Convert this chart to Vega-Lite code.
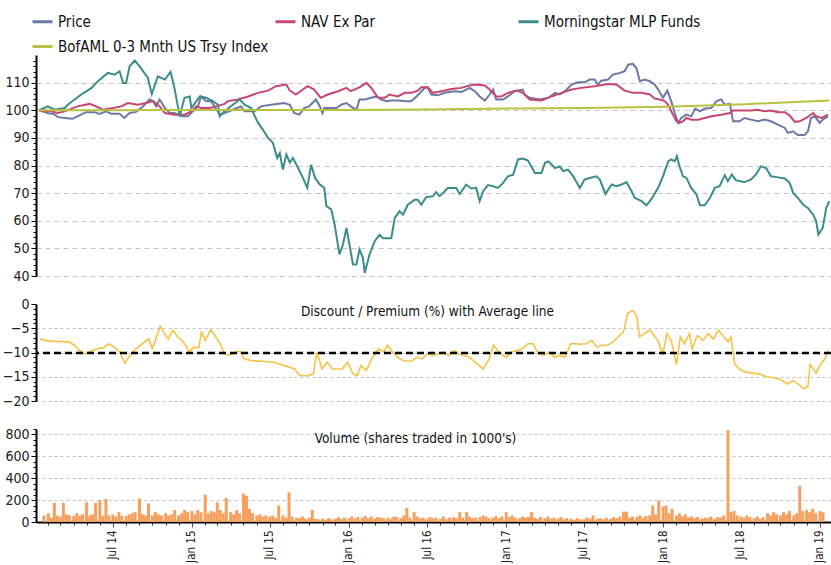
{
  "$schema": "https://vega.github.io/schema/vega-lite/v6.json",
  "padding": {"left": 2, "top": 10, "right": 0, "bottom": 0},
  "background": "white",
  "bounds": "flush",
  "spacing": 28,
  "config": {
    "font": "DejaVu Sans Condensed",
    "view": {"stroke": null},
    "axis": {
      "labelFont": "DejaVu Sans Condensed",
      "labelFontSize": 14,
      "labelColor": "#222",
      "domainColor": "#000",
      "domainWidth": 2,
      "tickColor": "#000",
      "tickSize": 5,
      "labelPadding": 2,
      "gridColor": "#c4c4c4",
      "gridDash": [5, 4],
      "title": null
    },
    "title": {"font": "DejaVu Sans Condensed", "fontSize": 13.5, "fontWeight": "normal", "color": "#111"}
  },
  "datasets": {
    "prices": [
      {"date": "2014-01-22", "series": "Price", "value": 100},
      {"date": "2014-02-11", "series": "Price", "value": 99},
      {"date": "2014-02-27", "series": "Price", "value": 98.5},
      {"date": "2014-03-06", "series": "Price", "value": 97.5},
      {"date": "2014-03-22", "series": "Price", "value": 97.2},
      {"date": "2014-04-09", "series": "Price", "value": 96.9},
      {"date": "2014-04-20", "series": "Price", "value": 97.8},
      {"date": "2014-05-10", "series": "Price", "value": 99.3},
      {"date": "2014-05-30", "series": "Price", "value": 99.3},
      {"date": "2014-06-10", "series": "Price", "value": 98.7},
      {"date": "2014-06-25", "series": "Price", "value": 99.6},
      {"date": "2014-07-07", "series": "Price", "value": 98.7},
      {"date": "2014-07-26", "series": "Price", "value": 98.7},
      {"date": "2014-08-06", "series": "Price", "value": 97.2},
      {"date": "2014-08-18", "series": "Price", "value": 99},
      {"date": "2014-09-02", "series": "Price", "value": 99.4},
      {"date": "2014-09-18", "series": "Price", "value": 101.4},
      {"date": "2014-10-03", "series": "Price", "value": 103.9},
      {"date": "2014-10-11", "series": "Price", "value": 103.3},
      {"date": "2014-10-18", "series": "Price", "value": 101.4},
      {"date": "2014-10-26", "series": "Price", "value": 103.9},
      {"date": "2014-11-07", "series": "Price", "value": 100.8},
      {"date": "2014-11-18", "series": "Price", "value": 99},
      {"date": "2014-11-29", "series": "Price", "value": 99},
      {"date": "2014-12-15", "series": "Price", "value": 97.8},
      {"date": "2014-12-30", "series": "Price", "value": 97.8},
      {"date": "2015-01-10", "series": "Price", "value": 99.6},
      {"date": "2015-01-22", "series": "Price", "value": 101.4},
      {"date": "2015-01-29", "series": "Price", "value": 105},
      {"date": "2015-02-10", "series": "Price", "value": 103.3},
      {"date": "2015-02-21", "series": "Price", "value": 103.3},
      {"date": "2015-03-01", "series": "Price", "value": 101.4},
      {"date": "2015-03-13", "series": "Price", "value": 98.4},
      {"date": "2015-03-24", "series": "Price", "value": 99},
      {"date": "2015-04-12", "series": "Price", "value": 100.2},
      {"date": "2015-05-01", "series": "Price", "value": 101.4},
      {"date": "2015-05-09", "series": "Price", "value": 99.6},
      {"date": "2015-06-01", "series": "Price", "value": 99.6},
      {"date": "2015-06-16", "series": "Price", "value": 101.4},
      {"date": "2015-07-09", "series": "Price", "value": 102},
      {"date": "2015-08-08", "series": "Price", "value": 102.6},
      {"date": "2015-08-21", "series": "Price", "value": 102},
      {"date": "2015-08-31", "series": "Price", "value": 99},
      {"date": "2015-09-12", "series": "Price", "value": 98.4},
      {"date": "2015-09-23", "series": "Price", "value": 100.8},
      {"date": "2015-10-04", "series": "Price", "value": 101.4},
      {"date": "2015-10-20", "series": "Price", "value": 103.9},
      {"date": "2015-10-29", "series": "Price", "value": 101.4},
      {"date": "2015-11-04", "series": "Price", "value": 99},
      {"date": "2015-11-08", "series": "Price", "value": 100.8},
      {"date": "2015-12-06", "series": "Price", "value": 100.8},
      {"date": "2015-12-17", "series": "Price", "value": 102},
      {"date": "2015-12-29", "series": "Price", "value": 102.6},
      {"date": "2016-01-08", "series": "Price", "value": 101.4},
      {"date": "2016-01-21", "series": "Price", "value": 100.2},
      {"date": "2016-01-28", "series": "Price", "value": 103.9},
      {"date": "2016-02-09", "series": "Price", "value": 103.9},
      {"date": "2016-02-24", "series": "Price", "value": 104.5},
      {"date": "2016-03-07", "series": "Price", "value": 105},
      {"date": "2016-03-18", "series": "Price", "value": 103.9},
      {"date": "2016-03-30", "series": "Price", "value": 103.3},
      {"date": "2016-04-10", "series": "Price", "value": 103.5},
      {"date": "2016-04-25", "series": "Price", "value": 103.5},
      {"date": "2016-05-15", "series": "Price", "value": 103.3},
      {"date": "2016-05-26", "series": "Price", "value": 103.3},
      {"date": "2016-06-07", "series": "Price", "value": 105},
      {"date": "2016-06-15", "series": "Price", "value": 106.3},
      {"date": "2016-06-26", "series": "Price", "value": 108.1},
      {"date": "2016-07-03", "series": "Price", "value": 108.1},
      {"date": "2016-07-11", "series": "Price", "value": 105.7},
      {"date": "2016-07-26", "series": "Price", "value": 105.4},
      {"date": "2016-08-11", "series": "Price", "value": 106.3},
      {"date": "2016-09-03", "series": "Price", "value": 106.9},
      {"date": "2016-09-18", "series": "Price", "value": 106.6},
      {"date": "2016-09-29", "series": "Price", "value": 107.5},
      {"date": "2016-10-07", "series": "Price", "value": 108.1},
      {"date": "2016-10-19", "series": "Price", "value": 106.9},
      {"date": "2016-10-30", "series": "Price", "value": 105},
      {"date": "2016-11-11", "series": "Price", "value": 103.5},
      {"date": "2016-11-22", "series": "Price", "value": 105.7},
      {"date": "2016-11-30", "series": "Price", "value": 107.5},
      {"date": "2016-12-07", "series": "Price", "value": 103.9},
      {"date": "2016-12-23", "series": "Price", "value": 103.9},
      {"date": "2017-01-03", "series": "Price", "value": 105},
      {"date": "2017-01-18", "series": "Price", "value": 106.9},
      {"date": "2017-02-06", "series": "Price", "value": 107.5},
      {"date": "2017-02-10", "series": "Price", "value": 105.7},
      {"date": "2017-02-22", "series": "Price", "value": 104.5},
      {"date": "2017-03-17", "series": "Price", "value": 103.9},
      {"date": "2017-04-06", "series": "Price", "value": 104.5},
      {"date": "2017-04-21", "series": "Price", "value": 106.3},
      {"date": "2017-05-02", "series": "Price", "value": 105.7},
      {"date": "2017-05-14", "series": "Price", "value": 106.9},
      {"date": "2017-05-29", "series": "Price", "value": 109.3},
      {"date": "2017-06-13", "series": "Price", "value": 110.1},
      {"date": "2017-06-28", "series": "Price", "value": 110.1},
      {"date": "2017-07-10", "series": "Price", "value": 111.1},
      {"date": "2017-07-21", "series": "Price", "value": 111.1},
      {"date": "2017-07-29", "series": "Price", "value": 109.3},
      {"date": "2017-08-05", "series": "Price", "value": 110.7},
      {"date": "2017-08-21", "series": "Price", "value": 111.1},
      {"date": "2017-09-01", "series": "Price", "value": 112.9},
      {"date": "2017-09-17", "series": "Price", "value": 113.5},
      {"date": "2017-09-28", "series": "Price", "value": 114.1},
      {"date": "2017-10-06", "series": "Price", "value": 116.5},
      {"date": "2017-10-17", "series": "Price", "value": 116.8},
      {"date": "2017-10-25", "series": "Price", "value": 115.3},
      {"date": "2017-11-02", "series": "Price", "value": 110.5},
      {"date": "2017-11-13", "series": "Price", "value": 111.1},
      {"date": "2017-11-25", "series": "Price", "value": 110.5},
      {"date": "2017-12-06", "series": "Price", "value": 109.3},
      {"date": "2017-12-14", "series": "Price", "value": 107.5},
      {"date": "2017-12-25", "series": "Price", "value": 104.5},
      {"date": "2018-01-04", "series": "Price", "value": 107.1},
      {"date": "2018-01-13", "series": "Price", "value": 103.3},
      {"date": "2018-01-21", "series": "Price", "value": 99},
      {"date": "2018-01-29", "series": "Price", "value": 95.4},
      {"date": "2018-02-05", "series": "Price", "value": 97.2},
      {"date": "2018-02-17", "series": "Price", "value": 98.4},
      {"date": "2018-02-28", "series": "Price", "value": 97.8},
      {"date": "2018-03-09", "series": "Price", "value": 100.6},
      {"date": "2018-03-20", "series": "Price", "value": 99.6},
      {"date": "2018-03-31", "series": "Price", "value": 100.6},
      {"date": "2018-04-15", "series": "Price", "value": 100.8},
      {"date": "2018-04-27", "series": "Price", "value": 103.3},
      {"date": "2018-05-08", "series": "Price", "value": 103.9},
      {"date": "2018-05-16", "series": "Price", "value": 102},
      {"date": "2018-05-28", "series": "Price", "value": 102.3},
      {"date": "2018-06-04", "series": "Price", "value": 96},
      {"date": "2018-06-19", "series": "Price", "value": 96},
      {"date": "2018-06-30", "series": "Price", "value": 97.2},
      {"date": "2018-07-15", "series": "Price", "value": 96.6},
      {"date": "2018-07-31", "series": "Price", "value": 96},
      {"date": "2018-08-15", "series": "Price", "value": 96.6},
      {"date": "2018-08-30", "series": "Price", "value": 96},
      {"date": "2018-09-15", "series": "Price", "value": 94.8},
      {"date": "2018-10-01", "series": "Price", "value": 93.6},
      {"date": "2018-10-08", "series": "Price", "value": 91.8},
      {"date": "2018-10-20", "series": "Price", "value": 92.4},
      {"date": "2018-10-31", "series": "Price", "value": 91},
      {"date": "2018-11-15", "series": "Price", "value": 91},
      {"date": "2018-11-23", "series": "Price", "value": 92.4},
      {"date": "2018-11-30", "series": "Price", "value": 97.2},
      {"date": "2018-12-09", "series": "Price", "value": 97.8},
      {"date": "2018-12-20", "series": "Price", "value": 95.4},
      {"date": "2018-12-27", "series": "Price", "value": 96.6},
      {"date": "2019-01-08", "series": "Price", "value": 97.8},
      {"date": "2014-01-22", "series": "NAV Ex Par", "value": 100},
      {"date": "2014-02-19", "series": "NAV Ex Par", "value": 99.6},
      {"date": "2014-03-06", "series": "NAV Ex Par", "value": 99},
      {"date": "2014-03-22", "series": "NAV Ex Par", "value": 99.6},
      {"date": "2014-04-20", "series": "NAV Ex Par", "value": 101.4},
      {"date": "2014-05-18", "series": "NAV Ex Par", "value": 102.3},
      {"date": "2014-06-02", "series": "NAV Ex Par", "value": 101.4},
      {"date": "2014-06-18", "series": "NAV Ex Par", "value": 100.2},
      {"date": "2014-07-11", "series": "NAV Ex Par", "value": 100.8},
      {"date": "2014-07-30", "series": "NAV Ex Par", "value": 101.4},
      {"date": "2014-08-14", "series": "NAV Ex Par", "value": 102.6},
      {"date": "2014-09-06", "series": "NAV Ex Par", "value": 102},
      {"date": "2014-09-25", "series": "NAV Ex Par", "value": 102.6},
      {"date": "2014-10-11", "series": "NAV Ex Par", "value": 103.3},
      {"date": "2014-10-26", "series": "NAV Ex Par", "value": 101.4},
      {"date": "2014-11-07", "series": "NAV Ex Par", "value": 99},
      {"date": "2014-11-29", "series": "NAV Ex Par", "value": 98.4},
      {"date": "2014-12-22", "series": "NAV Ex Par", "value": 98.4},
      {"date": "2015-01-07", "series": "NAV Ex Par", "value": 99.6},
      {"date": "2015-01-18", "series": "NAV Ex Par", "value": 101.4},
      {"date": "2015-01-29", "series": "NAV Ex Par", "value": 100.8},
      {"date": "2015-02-18", "series": "NAV Ex Par", "value": 100.8},
      {"date": "2015-03-05", "series": "NAV Ex Par", "value": 101.4},
      {"date": "2015-03-24", "series": "NAV Ex Par", "value": 102.3},
      {"date": "2015-04-01", "series": "NAV Ex Par", "value": 103.3},
      {"date": "2015-04-24", "series": "NAV Ex Par", "value": 103.9},
      {"date": "2015-05-17", "series": "NAV Ex Par", "value": 105},
      {"date": "2015-06-09", "series": "NAV Ex Par", "value": 106.3},
      {"date": "2015-07-02", "series": "NAV Ex Par", "value": 107.1},
      {"date": "2015-07-20", "series": "NAV Ex Par", "value": 108.7},
      {"date": "2015-08-13", "series": "NAV Ex Par", "value": 109.3},
      {"date": "2015-08-21", "series": "NAV Ex Par", "value": 107.1},
      {"date": "2015-09-04", "series": "NAV Ex Par", "value": 105.7},
      {"date": "2015-09-20", "series": "NAV Ex Par", "value": 107.5},
      {"date": "2015-10-01", "series": "NAV Ex Par", "value": 108.7},
      {"date": "2015-10-16", "series": "NAV Ex Par", "value": 107.5},
      {"date": "2015-10-31", "series": "NAV Ex Par", "value": 104.5},
      {"date": "2015-11-16", "series": "NAV Ex Par", "value": 105.7},
      {"date": "2015-12-10", "series": "NAV Ex Par", "value": 106.9},
      {"date": "2015-12-29", "series": "NAV Ex Par", "value": 108.1},
      {"date": "2016-01-08", "series": "NAV Ex Par", "value": 106.9},
      {"date": "2016-01-28", "series": "NAV Ex Par", "value": 108.3},
      {"date": "2016-02-13", "series": "NAV Ex Par", "value": 109.9},
      {"date": "2016-02-24", "series": "NAV Ex Par", "value": 108.1},
      {"date": "2016-03-11", "series": "NAV Ex Par", "value": 104.5},
      {"date": "2016-03-26", "series": "NAV Ex Par", "value": 104.5},
      {"date": "2016-04-06", "series": "NAV Ex Par", "value": 105.7},
      {"date": "2016-04-25", "series": "NAV Ex Par", "value": 105},
      {"date": "2016-05-11", "series": "NAV Ex Par", "value": 106.3},
      {"date": "2016-05-26", "series": "NAV Ex Par", "value": 106.3},
      {"date": "2016-06-10", "series": "NAV Ex Par", "value": 107.1},
      {"date": "2016-06-18", "series": "NAV Ex Par", "value": 108.3},
      {"date": "2016-07-03", "series": "NAV Ex Par", "value": 108.3},
      {"date": "2016-07-15", "series": "NAV Ex Par", "value": 106.3},
      {"date": "2016-08-03", "series": "NAV Ex Par", "value": 106.9},
      {"date": "2016-08-26", "series": "NAV Ex Par", "value": 107.7},
      {"date": "2016-09-18", "series": "NAV Ex Par", "value": 108.1},
      {"date": "2016-10-07", "series": "NAV Ex Par", "value": 109},
      {"date": "2016-10-22", "series": "NAV Ex Par", "value": 109.3},
      {"date": "2016-11-11", "series": "NAV Ex Par", "value": 109},
      {"date": "2016-11-22", "series": "NAV Ex Par", "value": 107.5},
      {"date": "2016-12-07", "series": "NAV Ex Par", "value": 105},
      {"date": "2016-12-19", "series": "NAV Ex Par", "value": 105},
      {"date": "2017-01-03", "series": "NAV Ex Par", "value": 106.3},
      {"date": "2017-01-22", "series": "NAV Ex Par", "value": 107.1},
      {"date": "2017-02-06", "series": "NAV Ex Par", "value": 106.3},
      {"date": "2017-02-22", "series": "NAV Ex Par", "value": 103.9},
      {"date": "2017-03-21", "series": "NAV Ex Par", "value": 103.5},
      {"date": "2017-04-13", "series": "NAV Ex Par", "value": 105},
      {"date": "2017-05-06", "series": "NAV Ex Par", "value": 106.3},
      {"date": "2017-05-29", "series": "NAV Ex Par", "value": 107.5},
      {"date": "2017-06-21", "series": "NAV Ex Par", "value": 108.1},
      {"date": "2017-07-21", "series": "NAV Ex Par", "value": 108.7},
      {"date": "2017-08-21", "series": "NAV Ex Par", "value": 109.5},
      {"date": "2017-09-09", "series": "NAV Ex Par", "value": 109.3},
      {"date": "2017-09-28", "series": "NAV Ex Par", "value": 107.1},
      {"date": "2017-10-17", "series": "NAV Ex Par", "value": 106.3},
      {"date": "2017-11-06", "series": "NAV Ex Par", "value": 106.3},
      {"date": "2017-11-25", "series": "NAV Ex Par", "value": 105.7},
      {"date": "2017-12-06", "series": "NAV Ex Par", "value": 104.2},
      {"date": "2017-12-18", "series": "NAV Ex Par", "value": 103.9},
      {"date": "2017-12-29", "series": "NAV Ex Par", "value": 103.3},
      {"date": "2018-01-06", "series": "NAV Ex Par", "value": 102},
      {"date": "2018-01-17", "series": "NAV Ex Par", "value": 98.4},
      {"date": "2018-01-25", "series": "NAV Ex Par", "value": 96},
      {"date": "2018-02-01", "series": "NAV Ex Par", "value": 95.4},
      {"date": "2018-02-09", "series": "NAV Ex Par", "value": 96},
      {"date": "2018-02-17", "series": "NAV Ex Par", "value": 97.2},
      {"date": "2018-02-28", "series": "NAV Ex Par", "value": 96.6},
      {"date": "2018-03-16", "series": "NAV Ex Par", "value": 96.6},
      {"date": "2018-03-31", "series": "NAV Ex Par", "value": 97.2},
      {"date": "2018-04-15", "series": "NAV Ex Par", "value": 97.8},
      {"date": "2018-05-08", "series": "NAV Ex Par", "value": 98.4},
      {"date": "2018-05-28", "series": "NAV Ex Par", "value": 99},
      {"date": "2018-06-04", "series": "NAV Ex Par", "value": 99.9},
      {"date": "2018-06-23", "series": "NAV Ex Par", "value": 99.9},
      {"date": "2018-07-15", "series": "NAV Ex Par", "value": 99.9},
      {"date": "2018-07-31", "series": "NAV Ex Par", "value": 100.2},
      {"date": "2018-08-15", "series": "NAV Ex Par", "value": 99.6},
      {"date": "2018-08-30", "series": "NAV Ex Par", "value": 99.9},
      {"date": "2018-09-15", "series": "NAV Ex Par", "value": 99.3},
      {"date": "2018-10-01", "series": "NAV Ex Par", "value": 99.3},
      {"date": "2018-10-12", "series": "NAV Ex Par", "value": 98.1},
      {"date": "2018-10-24", "series": "NAV Ex Par", "value": 95.8},
      {"date": "2018-11-04", "series": "NAV Ex Par", "value": 96},
      {"date": "2018-11-19", "series": "NAV Ex Par", "value": 97.2},
      {"date": "2018-12-05", "series": "NAV Ex Par", "value": 99},
      {"date": "2018-12-12", "series": "NAV Ex Par", "value": 97.8},
      {"date": "2018-12-24", "series": "NAV Ex Par", "value": 97.2},
      {"date": "2019-01-08", "series": "NAV Ex Par", "value": 98.4},
      {"date": "2014-01-22", "series": "Morningstar MLP Funds", "value": 100},
      {"date": "2014-02-11", "series": "Morningstar MLP Funds", "value": 101.4},
      {"date": "2014-02-27", "series": "Morningstar MLP Funds", "value": 100.2},
      {"date": "2014-03-22", "series": "Morningstar MLP Funds", "value": 100.8},
      {"date": "2014-03-29", "series": "Morningstar MLP Funds", "value": 102},
      {"date": "2014-04-29", "series": "Morningstar MLP Funds", "value": 105.7},
      {"date": "2014-05-22", "series": "Morningstar MLP Funds", "value": 108},
      {"date": "2014-06-06", "series": "Morningstar MLP Funds", "value": 110.5},
      {"date": "2014-06-29", "series": "Morningstar MLP Funds", "value": 113.5},
      {"date": "2014-07-15", "series": "Morningstar MLP Funds", "value": 112.9},
      {"date": "2014-07-26", "series": "Morningstar MLP Funds", "value": 114.1},
      {"date": "2014-08-03", "series": "Morningstar MLP Funds", "value": 109.9},
      {"date": "2014-08-10", "series": "Morningstar MLP Funds", "value": 109.9},
      {"date": "2014-08-18", "series": "Morningstar MLP Funds", "value": 115.9},
      {"date": "2014-08-30", "series": "Morningstar MLP Funds", "value": 118},
      {"date": "2014-09-10", "series": "Morningstar MLP Funds", "value": 115.9},
      {"date": "2014-09-29", "series": "Morningstar MLP Funds", "value": 111.7},
      {"date": "2014-10-08", "series": "Morningstar MLP Funds", "value": 105.9},
      {"date": "2014-10-22", "series": "Morningstar MLP Funds", "value": 112.3},
      {"date": "2014-11-07", "series": "Morningstar MLP Funds", "value": 111.1},
      {"date": "2014-11-20", "series": "Morningstar MLP Funds", "value": 113.9},
      {"date": "2014-11-29", "series": "Morningstar MLP Funds", "value": 108.1},
      {"date": "2014-12-11", "series": "Morningstar MLP Funds", "value": 97.8},
      {"date": "2014-12-22", "series": "Morningstar MLP Funds", "value": 104.5},
      {"date": "2015-01-03", "series": "Morningstar MLP Funds", "value": 105},
      {"date": "2015-01-07", "series": "Morningstar MLP Funds", "value": 100.8},
      {"date": "2015-01-26", "series": "Morningstar MLP Funds", "value": 105},
      {"date": "2015-02-10", "series": "Morningstar MLP Funds", "value": 104.5},
      {"date": "2015-02-25", "series": "Morningstar MLP Funds", "value": 103.3},
      {"date": "2015-03-09", "series": "Morningstar MLP Funds", "value": 102},
      {"date": "2015-03-13", "series": "Morningstar MLP Funds", "value": 97.8},
      {"date": "2015-03-24", "series": "Morningstar MLP Funds", "value": 99.6},
      {"date": "2015-04-12", "series": "Morningstar MLP Funds", "value": 102},
      {"date": "2015-04-28", "series": "Morningstar MLP Funds", "value": 103.9},
      {"date": "2015-05-09", "series": "Morningstar MLP Funds", "value": 102},
      {"date": "2015-05-24", "series": "Morningstar MLP Funds", "value": 100.8},
      {"date": "2015-06-09", "series": "Morningstar MLP Funds", "value": 95.4},
      {"date": "2015-06-20", "series": "Morningstar MLP Funds", "value": 93},
      {"date": "2015-07-02", "series": "Morningstar MLP Funds", "value": 90},
      {"date": "2015-07-13", "series": "Morningstar MLP Funds", "value": 88.2},
      {"date": "2015-07-23", "series": "Morningstar MLP Funds", "value": 82.7},
      {"date": "2015-07-29", "series": "Morningstar MLP Funds", "value": 84.5},
      {"date": "2015-08-05", "series": "Morningstar MLP Funds", "value": 78.5},
      {"date": "2015-08-13", "series": "Morningstar MLP Funds", "value": 84},
      {"date": "2015-08-21", "series": "Morningstar MLP Funds", "value": 81},
      {"date": "2015-08-28", "series": "Morningstar MLP Funds", "value": 82.7},
      {"date": "2015-09-09", "series": "Morningstar MLP Funds", "value": 79.1},
      {"date": "2015-09-20", "series": "Morningstar MLP Funds", "value": 75.5},
      {"date": "2015-09-30", "series": "Morningstar MLP Funds", "value": 71.9},
      {"date": "2015-10-09", "series": "Morningstar MLP Funds", "value": 80.3},
      {"date": "2015-10-18", "series": "Morningstar MLP Funds", "value": 75.5},
      {"date": "2015-10-29", "series": "Morningstar MLP Funds", "value": 73.1},
      {"date": "2015-11-08", "series": "Morningstar MLP Funds", "value": 71.9},
      {"date": "2015-11-13", "series": "Morningstar MLP Funds", "value": 65.3},
      {"date": "2015-11-24", "series": "Morningstar MLP Funds", "value": 64.1},
      {"date": "2015-12-02", "series": "Morningstar MLP Funds", "value": 58.6},
      {"date": "2015-12-13", "series": "Morningstar MLP Funds", "value": 47.8},
      {"date": "2015-12-21", "series": "Morningstar MLP Funds", "value": 51.4},
      {"date": "2015-12-29", "series": "Morningstar MLP Funds", "value": 57.4},
      {"date": "2016-01-05", "series": "Morningstar MLP Funds", "value": 51.4},
      {"date": "2016-01-13", "series": "Morningstar MLP Funds", "value": 44.2},
      {"date": "2016-01-21", "series": "Morningstar MLP Funds", "value": 44.2},
      {"date": "2016-01-28", "series": "Morningstar MLP Funds", "value": 49.6},
      {"date": "2016-02-05", "series": "Morningstar MLP Funds", "value": 46.5},
      {"date": "2016-02-09", "series": "Morningstar MLP Funds", "value": 41.1},
      {"date": "2016-02-20", "series": "Morningstar MLP Funds", "value": 47.8},
      {"date": "2016-03-03", "series": "Morningstar MLP Funds", "value": 52.6},
      {"date": "2016-03-14", "series": "Morningstar MLP Funds", "value": 54.9},
      {"date": "2016-03-22", "series": "Morningstar MLP Funds", "value": 53.7},
      {"date": "2016-04-10", "series": "Morningstar MLP Funds", "value": 53.7},
      {"date": "2016-04-18", "series": "Morningstar MLP Funds", "value": 61},
      {"date": "2016-04-29", "series": "Morningstar MLP Funds", "value": 63.4},
      {"date": "2016-05-07", "series": "Morningstar MLP Funds", "value": 62.2},
      {"date": "2016-05-18", "series": "Morningstar MLP Funds", "value": 65.8},
      {"date": "2016-06-03", "series": "Morningstar MLP Funds", "value": 67.6},
      {"date": "2016-06-10", "series": "Morningstar MLP Funds", "value": 67.6},
      {"date": "2016-06-18", "series": "Morningstar MLP Funds", "value": 65.8},
      {"date": "2016-06-29", "series": "Morningstar MLP Funds", "value": 68.5},
      {"date": "2016-07-15", "series": "Morningstar MLP Funds", "value": 68.9},
      {"date": "2016-07-22", "series": "Morningstar MLP Funds", "value": 70.4},
      {"date": "2016-07-30", "series": "Morningstar MLP Funds", "value": 68.9},
      {"date": "2016-08-11", "series": "Morningstar MLP Funds", "value": 70.7},
      {"date": "2016-08-18", "series": "Morningstar MLP Funds", "value": 71.9},
      {"date": "2016-09-06", "series": "Morningstar MLP Funds", "value": 71.9},
      {"date": "2016-09-14", "series": "Morningstar MLP Funds", "value": 69.7},
      {"date": "2016-09-29", "series": "Morningstar MLP Funds", "value": 73.1},
      {"date": "2016-10-11", "series": "Morningstar MLP Funds", "value": 71.7},
      {"date": "2016-10-22", "series": "Morningstar MLP Funds", "value": 71.9},
      {"date": "2016-10-30", "series": "Morningstar MLP Funds", "value": 67.1},
      {"date": "2016-11-07", "series": "Morningstar MLP Funds", "value": 70.7},
      {"date": "2016-11-18", "series": "Morningstar MLP Funds", "value": 72.9},
      {"date": "2016-11-30", "series": "Morningstar MLP Funds", "value": 72.5},
      {"date": "2016-12-11", "series": "Morningstar MLP Funds", "value": 71.9},
      {"date": "2016-12-23", "series": "Morningstar MLP Funds", "value": 73.7},
      {"date": "2017-01-03", "series": "Morningstar MLP Funds", "value": 76.1},
      {"date": "2017-01-15", "series": "Morningstar MLP Funds", "value": 76.7},
      {"date": "2017-01-26", "series": "Morningstar MLP Funds", "value": 82.2},
      {"date": "2017-02-07", "series": "Morningstar MLP Funds", "value": 82.5},
      {"date": "2017-02-18", "series": "Morningstar MLP Funds", "value": 81.8},
      {"date": "2017-03-06", "series": "Morningstar MLP Funds", "value": 77.3},
      {"date": "2017-03-21", "series": "Morningstar MLP Funds", "value": 77.3},
      {"date": "2017-03-29", "series": "Morningstar MLP Funds", "value": 81},
      {"date": "2017-04-06", "series": "Morningstar MLP Funds", "value": 81.5},
      {"date": "2017-04-21", "series": "Morningstar MLP Funds", "value": 79.1},
      {"date": "2017-05-02", "series": "Morningstar MLP Funds", "value": 79.7},
      {"date": "2017-05-10", "series": "Morningstar MLP Funds", "value": 77.9},
      {"date": "2017-05-21", "series": "Morningstar MLP Funds", "value": 78.5},
      {"date": "2017-06-02", "series": "Morningstar MLP Funds", "value": 76.1},
      {"date": "2017-06-17", "series": "Morningstar MLP Funds", "value": 71.9},
      {"date": "2017-06-28", "series": "Morningstar MLP Funds", "value": 74.9},
      {"date": "2017-07-10", "series": "Morningstar MLP Funds", "value": 75.5},
      {"date": "2017-07-25", "series": "Morningstar MLP Funds", "value": 76.1},
      {"date": "2017-08-02", "series": "Morningstar MLP Funds", "value": 74.9},
      {"date": "2017-08-15", "series": "Morningstar MLP Funds", "value": 69.7},
      {"date": "2017-08-29", "series": "Morningstar MLP Funds", "value": 73.1},
      {"date": "2017-09-09", "series": "Morningstar MLP Funds", "value": 72.5},
      {"date": "2017-09-21", "series": "Morningstar MLP Funds", "value": 73.1},
      {"date": "2017-10-02", "series": "Morningstar MLP Funds", "value": 74},
      {"date": "2017-10-14", "series": "Morningstar MLP Funds", "value": 70.7},
      {"date": "2017-10-21", "series": "Morningstar MLP Funds", "value": 68.3},
      {"date": "2017-11-06", "series": "Morningstar MLP Funds", "value": 67.1},
      {"date": "2017-11-17", "series": "Morningstar MLP Funds", "value": 65.6},
      {"date": "2017-11-28", "series": "Morningstar MLP Funds", "value": 67.7},
      {"date": "2017-12-14", "series": "Morningstar MLP Funds", "value": 71.9},
      {"date": "2017-12-25", "series": "Morningstar MLP Funds", "value": 76.1},
      {"date": "2018-01-06", "series": "Morningstar MLP Funds", "value": 81.5},
      {"date": "2018-01-13", "series": "Morningstar MLP Funds", "value": 82.2},
      {"date": "2018-01-21", "series": "Morningstar MLP Funds", "value": 81.5},
      {"date": "2018-01-26", "series": "Morningstar MLP Funds", "value": 83.4},
      {"date": "2018-02-01", "series": "Morningstar MLP Funds", "value": 79.7},
      {"date": "2018-02-09", "series": "Morningstar MLP Funds", "value": 76.1},
      {"date": "2018-02-17", "series": "Morningstar MLP Funds", "value": 75.5},
      {"date": "2018-02-28", "series": "Morningstar MLP Funds", "value": 71.9},
      {"date": "2018-03-12", "series": "Morningstar MLP Funds", "value": 69.5},
      {"date": "2018-03-20", "series": "Morningstar MLP Funds", "value": 65.6},
      {"date": "2018-03-31", "series": "Morningstar MLP Funds", "value": 65.6},
      {"date": "2018-04-12", "series": "Morningstar MLP Funds", "value": 68.3},
      {"date": "2018-04-23", "series": "Morningstar MLP Funds", "value": 71.9},
      {"date": "2018-05-04", "series": "Morningstar MLP Funds", "value": 72.5},
      {"date": "2018-05-16", "series": "Morningstar MLP Funds", "value": 76.5},
      {"date": "2018-05-23", "series": "Morningstar MLP Funds", "value": 74.3},
      {"date": "2018-06-01", "series": "Morningstar MLP Funds", "value": 76.7},
      {"date": "2018-06-11", "series": "Morningstar MLP Funds", "value": 74.6},
      {"date": "2018-06-30", "series": "Morningstar MLP Funds", "value": 74},
      {"date": "2018-07-15", "series": "Morningstar MLP Funds", "value": 74.9},
      {"date": "2018-07-27", "series": "Morningstar MLP Funds", "value": 76.9},
      {"date": "2018-08-07", "series": "Morningstar MLP Funds", "value": 79.7},
      {"date": "2018-08-19", "series": "Morningstar MLP Funds", "value": 79.1},
      {"date": "2018-08-30", "series": "Morningstar MLP Funds", "value": 76.1},
      {"date": "2018-09-15", "series": "Morningstar MLP Funds", "value": 75.7},
      {"date": "2018-10-01", "series": "Morningstar MLP Funds", "value": 75.3},
      {"date": "2018-10-12", "series": "Morningstar MLP Funds", "value": 73.7},
      {"date": "2018-10-20", "series": "Morningstar MLP Funds", "value": 70.1},
      {"date": "2018-10-31", "series": "Morningstar MLP Funds", "value": 68.3},
      {"date": "2018-11-12", "series": "Morningstar MLP Funds", "value": 65.8},
      {"date": "2018-11-23", "series": "Morningstar MLP Funds", "value": 64.6},
      {"date": "2018-12-05", "series": "Morningstar MLP Funds", "value": 62.2},
      {"date": "2018-12-12", "series": "Morningstar MLP Funds", "value": 59.8},
      {"date": "2018-12-17", "series": "Morningstar MLP Funds", "value": 55},
      {"date": "2018-12-27", "series": "Morningstar MLP Funds", "value": 57.4},
      {"date": "2019-01-04", "series": "Morningstar MLP Funds", "value": 64.6},
      {"date": "2019-01-11", "series": "Morningstar MLP Funds", "value": 67.1},
      {"date": "2014-01-22", "series": "BofAML 0-3 Mnth US Trsy Index", "value": 100},
      {"date": "2014-07-01", "series": "BofAML 0-3 Mnth US Trsy Index", "value": 100},
      {"date": "2015-01-01", "series": "BofAML 0-3 Mnth US Trsy Index", "value": 100.05},
      {"date": "2015-07-01", "series": "BofAML 0-3 Mnth US Trsy Index", "value": 100.05},
      {"date": "2016-01-01", "series": "BofAML 0-3 Mnth US Trsy Index", "value": 100.1},
      {"date": "2016-07-01", "series": "BofAML 0-3 Mnth US Trsy Index", "value": 100.3},
      {"date": "2017-01-01", "series": "BofAML 0-3 Mnth US Trsy Index", "value": 100.6},
      {"date": "2017-07-01", "series": "BofAML 0-3 Mnth US Trsy Index", "value": 100.8},
      {"date": "2018-01-01", "series": "BofAML 0-3 Mnth US Trsy Index", "value": 101.3},
      {"date": "2018-07-01", "series": "BofAML 0-3 Mnth US Trsy Index", "value": 102.2},
      {"date": "2019-01-11", "series": "BofAML 0-3 Mnth US Trsy Index", "value": 103.5}
    ],
    "discount": [
      {"date": "2014-01-24", "pct": -7.2}, {"date": "2014-02-11", "pct": -7.6}, {"date": "2014-02-24", "pct": -7.7},
      {"date": "2014-04-01", "pct": -7.8}, {"date": "2014-04-13", "pct": -8.5}, {"date": "2014-04-25", "pct": -9.6},
      {"date": "2014-05-08", "pct": -10.3}, {"date": "2014-05-16", "pct": -9.9}, {"date": "2014-05-25", "pct": -9.6},
      {"date": "2014-06-07", "pct": -9.2}, {"date": "2014-06-19", "pct": -9.0}, {"date": "2014-07-01", "pct": -8.2},
      {"date": "2014-07-14", "pct": -8.9}, {"date": "2014-07-26", "pct": -9.9}, {"date": "2014-08-07", "pct": -12.2},
      {"date": "2014-08-19", "pct": -10.6}, {"date": "2014-08-31", "pct": -9.4}, {"date": "2014-09-12", "pct": -8.5},
      {"date": "2014-10-01", "pct": -7.2}, {"date": "2014-10-09", "pct": -9.2}, {"date": "2014-10-19", "pct": -6.8},
      {"date": "2014-10-27", "pct": -4.6}, {"date": "2014-11-06", "pct": -6.1}, {"date": "2014-11-15", "pct": -7.2},
      {"date": "2014-11-25", "pct": -5.4}, {"date": "2014-12-07", "pct": -6.8}, {"date": "2014-12-16", "pct": -7.5},
      {"date": "2014-12-25", "pct": -8.5}, {"date": "2015-01-02", "pct": -9.9}, {"date": "2015-01-12", "pct": -8.9},
      {"date": "2015-01-24", "pct": -9.0}, {"date": "2015-01-30", "pct": -5.8}, {"date": "2015-02-08", "pct": -7.5},
      {"date": "2015-02-20", "pct": -5.3}, {"date": "2015-03-02", "pct": -6.5}, {"date": "2015-03-14", "pct": -8.2},
      {"date": "2015-03-24", "pct": -10.3}, {"date": "2015-04-05", "pct": -10.6}, {"date": "2015-04-20", "pct": -9.9},
      {"date": "2015-04-29", "pct": -9.7}, {"date": "2015-05-08", "pct": -11.3}, {"date": "2015-05-26", "pct": -11.7},
      {"date": "2015-06-20", "pct": -11.8}, {"date": "2015-07-15", "pct": -12.0}, {"date": "2015-08-07", "pct": -12.7},
      {"date": "2015-09-01", "pct": -13.4}, {"date": "2015-09-13", "pct": -14.8}, {"date": "2015-10-02", "pct": -14.8},
      {"date": "2015-10-14", "pct": -14.4}, {"date": "2015-10-22", "pct": -9.9}, {"date": "2015-11-03", "pct": -13.4},
      {"date": "2015-11-15", "pct": -12.0}, {"date": "2015-11-27", "pct": -13.4}, {"date": "2015-12-19", "pct": -13.4},
      {"date": "2016-01-01", "pct": -12.0}, {"date": "2016-01-13", "pct": -14.4}, {"date": "2016-01-23", "pct": -14.8},
      {"date": "2016-01-31", "pct": -12.7}, {"date": "2016-02-13", "pct": -13.7}, {"date": "2016-02-25", "pct": -11.3},
      {"date": "2016-03-12", "pct": -9.2}, {"date": "2016-03-24", "pct": -9.9}, {"date": "2016-04-01", "pct": -8.5},
      {"date": "2016-04-13", "pct": -9.9}, {"date": "2016-04-25", "pct": -11.0}, {"date": "2016-05-08", "pct": -11.7},
      {"date": "2016-05-26", "pct": -11.8}, {"date": "2016-06-08", "pct": -11.0}, {"date": "2016-06-20", "pct": -11.3},
      {"date": "2016-07-02", "pct": -10.3}, {"date": "2016-07-14", "pct": -10.6}, {"date": "2016-07-26", "pct": -10.3},
      {"date": "2016-08-07", "pct": -9.9}, {"date": "2016-08-19", "pct": -10.6}, {"date": "2016-09-01", "pct": -9.6},
      {"date": "2016-09-12", "pct": -10.3}, {"date": "2016-09-24", "pct": -10.6}, {"date": "2016-10-07", "pct": -11.0},
      {"date": "2016-10-19", "pct": -12.0}, {"date": "2016-11-07", "pct": -13.4}, {"date": "2016-11-19", "pct": -11.7},
      {"date": "2016-12-01", "pct": -8.5}, {"date": "2016-12-13", "pct": -9.9}, {"date": "2016-12-29", "pct": -11.0},
      {"date": "2017-01-12", "pct": -9.9}, {"date": "2017-01-24", "pct": -9.6}, {"date": "2017-02-06", "pct": -9.2},
      {"date": "2017-02-18", "pct": -8.2}, {"date": "2017-03-02", "pct": -8.2}, {"date": "2017-03-14", "pct": -10.3},
      {"date": "2017-03-27", "pct": -10.6}, {"date": "2017-04-08", "pct": -9.9}, {"date": "2017-04-20", "pct": -11.0},
      {"date": "2017-05-02", "pct": -10.6}, {"date": "2017-05-14", "pct": -11.0}, {"date": "2017-05-27", "pct": -8.2},
      {"date": "2017-06-08", "pct": -8.2}, {"date": "2017-06-20", "pct": -8.3}, {"date": "2017-07-02", "pct": -8.2},
      {"date": "2017-07-14", "pct": -7.5}, {"date": "2017-07-26", "pct": -8.9}, {"date": "2017-08-07", "pct": -8.5},
      {"date": "2017-08-20", "pct": -8.5}, {"date": "2017-09-01", "pct": -7.8}, {"date": "2017-09-13", "pct": -6.8},
      {"date": "2017-09-25", "pct": -5.8}, {"date": "2017-10-05", "pct": -1.9}, {"date": "2017-10-17", "pct": -1.3},
      {"date": "2017-10-26", "pct": -2.6}, {"date": "2017-11-01", "pct": -6.8}, {"date": "2017-11-13", "pct": -6.1},
      {"date": "2017-11-25", "pct": -5.4}, {"date": "2017-12-07", "pct": -6.8}, {"date": "2017-12-13", "pct": -7.5},
      {"date": "2017-12-25", "pct": -10.3}, {"date": "2018-01-03", "pct": -6.1}, {"date": "2018-01-13", "pct": -7.5},
      {"date": "2018-01-25", "pct": -12.5}, {"date": "2018-02-03", "pct": -6.8}, {"date": "2018-02-12", "pct": -8.2},
      {"date": "2018-02-24", "pct": -6.1}, {"date": "2018-03-02", "pct": -9.2}, {"date": "2018-03-14", "pct": -6.5},
      {"date": "2018-03-27", "pct": -7.5}, {"date": "2018-04-08", "pct": -6.1}, {"date": "2018-04-20", "pct": -7.2},
      {"date": "2018-05-02", "pct": -5.4}, {"date": "2018-05-14", "pct": -6.8}, {"date": "2018-05-24", "pct": -7.8},
      {"date": "2018-05-30", "pct": -6.8}, {"date": "2018-06-08", "pct": -12.4}, {"date": "2018-06-20", "pct": -13.5},
      {"date": "2018-07-02", "pct": -14.0}, {"date": "2018-07-14", "pct": -14.2}, {"date": "2018-08-07", "pct": -14.5},
      {"date": "2018-08-19", "pct": -15.0}, {"date": "2018-09-06", "pct": -15.2}, {"date": "2018-09-19", "pct": -15.5},
      {"date": "2018-10-07", "pct": -16.5}, {"date": "2018-10-20", "pct": -15.8}, {"date": "2018-11-01", "pct": -16.5},
      {"date": "2018-11-13", "pct": -17.5}, {"date": "2018-11-23", "pct": -17.0}, {"date": "2018-11-28", "pct": -12.5},
      {"date": "2018-12-12", "pct": -14.2}, {"date": "2018-12-21", "pct": -12.5}, {"date": "2018-12-31", "pct": -11.5},
      {"date": "2019-01-09", "pct": -9.5}
    ],
    "average": [
      {"pct": -10.1}
    ],
    "volume": [
      {"date": "2014-01-22", "vol": 60},
      {"date": "2014-02-01", "vol": 80}, {"date": "2014-02-08", "vol": 40}, {"date": "2014-02-15", "vol": 175}, {"date": "2014-02-22", "vol": 60},
      {"date": "2014-03-01", "vol": 50}, {"date": "2014-03-08", "vol": 175}, {"date": "2014-03-15", "vol": 70}, {"date": "2014-03-22", "vol": 60},
      {"date": "2014-04-01", "vol": 55}, {"date": "2014-04-08", "vol": 80}, {"date": "2014-04-15", "vol": 60}, {"date": "2014-04-22", "vol": 70},
      {"date": "2014-05-01", "vol": 180}, {"date": "2014-05-08", "vol": 60}, {"date": "2014-05-15", "vol": 70}, {"date": "2014-05-22", "vol": 175},
      {"date": "2014-06-01", "vol": 200}, {"date": "2014-06-08", "vol": 55}, {"date": "2014-06-15", "vol": 210}, {"date": "2014-06-22", "vol": 60},
      {"date": "2014-07-01", "vol": 70}, {"date": "2014-07-08", "vol": 50}, {"date": "2014-07-15", "vol": 90}, {"date": "2014-07-22", "vol": 60},
      {"date": "2014-08-01", "vol": 55}, {"date": "2014-08-08", "vol": 70}, {"date": "2014-08-15", "vol": 80}, {"date": "2014-08-22", "vol": 90},
      {"date": "2014-09-01", "vol": 215}, {"date": "2014-09-08", "vol": 70}, {"date": "2014-09-15", "vol": 60}, {"date": "2014-09-22", "vol": 170},
      {"date": "2014-10-01", "vol": 60}, {"date": "2014-10-08", "vol": 90}, {"date": "2014-10-15", "vol": 70}, {"date": "2014-10-22", "vol": 60},
      {"date": "2014-11-01", "vol": 80}, {"date": "2014-11-08", "vol": 60}, {"date": "2014-11-15", "vol": 70}, {"date": "2014-11-22", "vol": 110},
      {"date": "2014-12-01", "vol": 60}, {"date": "2014-12-08", "vol": 80}, {"date": "2014-12-15", "vol": 110}, {"date": "2014-12-22", "vol": 90},
      {"date": "2015-01-01", "vol": 100}, {"date": "2015-01-08", "vol": 70}, {"date": "2015-01-15", "vol": 110}, {"date": "2015-01-22", "vol": 90},
      {"date": "2015-02-01", "vol": 250}, {"date": "2015-02-08", "vol": 80}, {"date": "2015-02-15", "vol": 100}, {"date": "2015-02-22", "vol": 90},
      {"date": "2015-03-01", "vol": 180}, {"date": "2015-03-08", "vol": 110}, {"date": "2015-03-15", "vol": 80}, {"date": "2015-03-22", "vol": 220},
      {"date": "2015-04-01", "vol": 90}, {"date": "2015-04-08", "vol": 70}, {"date": "2015-04-15", "vol": 110}, {"date": "2015-04-22", "vol": 80},
      {"date": "2015-05-01", "vol": 260}, {"date": "2015-05-08", "vol": 240}, {"date": "2015-05-15", "vol": 120}, {"date": "2015-05-22", "vol": 80},
      {"date": "2015-06-01", "vol": 60}, {"date": "2015-06-08", "vol": 70}, {"date": "2015-06-15", "vol": 50}, {"date": "2015-06-22", "vol": 60},
      {"date": "2015-07-01", "vol": 50}, {"date": "2015-07-08", "vol": 60}, {"date": "2015-07-15", "vol": 40}, {"date": "2015-07-22", "vol": 150},
      {"date": "2015-08-01", "vol": 60}, {"date": "2015-08-08", "vol": 40}, {"date": "2015-08-15", "vol": 270}, {"date": "2015-08-22", "vol": 50},
      {"date": "2015-09-01", "vol": 40}, {"date": "2015-09-08", "vol": 35}, {"date": "2015-09-15", "vol": 50}, {"date": "2015-09-22", "vol": 30},
      {"date": "2015-10-01", "vol": 40}, {"date": "2015-10-08", "vol": 110}, {"date": "2015-10-15", "vol": 30}, {"date": "2015-10-22", "vol": 25},
      {"date": "2015-11-01", "vol": 30}, {"date": "2015-11-08", "vol": 20}, {"date": "2015-11-15", "vol": 35}, {"date": "2015-11-22", "vol": 25},
      {"date": "2015-12-01", "vol": 30}, {"date": "2015-12-08", "vol": 45}, {"date": "2015-12-15", "vol": 25}, {"date": "2015-12-22", "vol": 40},
      {"date": "2016-01-01", "vol": 35}, {"date": "2016-01-08", "vol": 50}, {"date": "2016-01-15", "vol": 30}, {"date": "2016-01-22", "vol": 45},
      {"date": "2016-02-01", "vol": 40}, {"date": "2016-02-08", "vol": 55}, {"date": "2016-02-15", "vol": 35}, {"date": "2016-02-22", "vol": 50},
      {"date": "2016-03-01", "vol": 30}, {"date": "2016-03-08", "vol": 45}, {"date": "2016-03-15", "vol": 40}, {"date": "2016-03-22", "vol": 35},
      {"date": "2016-04-01", "vol": 40}, {"date": "2016-04-08", "vol": 30}, {"date": "2016-04-15", "vol": 50}, {"date": "2016-04-22", "vol": 45},
      {"date": "2016-05-01", "vol": 35}, {"date": "2016-05-08", "vol": 60}, {"date": "2016-05-15", "vol": 130}, {"date": "2016-05-22", "vol": 40},
      {"date": "2016-06-01", "vol": 90}, {"date": "2016-06-08", "vol": 50}, {"date": "2016-06-15", "vol": 35}, {"date": "2016-06-22", "vol": 40},
      {"date": "2016-07-01", "vol": 30}, {"date": "2016-07-08", "vol": 45}, {"date": "2016-07-15", "vol": 35}, {"date": "2016-07-22", "vol": 40},
      {"date": "2016-08-01", "vol": 30}, {"date": "2016-08-08", "vol": 50}, {"date": "2016-08-15", "vol": 25}, {"date": "2016-08-22", "vol": 40},
      {"date": "2016-09-01", "vol": 45}, {"date": "2016-09-08", "vol": 35}, {"date": "2016-09-15", "vol": 90}, {"date": "2016-09-22", "vol": 40},
      {"date": "2016-10-01", "vol": 90}, {"date": "2016-10-08", "vol": 50}, {"date": "2016-10-15", "vol": 35}, {"date": "2016-10-22", "vol": 40},
      {"date": "2016-11-01", "vol": 45}, {"date": "2016-11-08", "vol": 60}, {"date": "2016-11-15", "vol": 50}, {"date": "2016-11-22", "vol": 35},
      {"date": "2016-12-01", "vol": 40}, {"date": "2016-12-08", "vol": 55}, {"date": "2016-12-15", "vol": 35}, {"date": "2016-12-22", "vol": 50},
      {"date": "2017-01-01", "vol": 90}, {"date": "2017-01-08", "vol": 45}, {"date": "2017-01-15", "vol": 60}, {"date": "2017-01-22", "vol": 40},
      {"date": "2017-02-01", "vol": 35}, {"date": "2017-02-08", "vol": 50}, {"date": "2017-02-15", "vol": 40}, {"date": "2017-02-22", "vol": 45},
      {"date": "2017-03-01", "vol": 90}, {"date": "2017-03-08", "vol": 40}, {"date": "2017-03-15", "vol": 30}, {"date": "2017-03-22", "vol": 45},
      {"date": "2017-04-01", "vol": 35}, {"date": "2017-04-08", "vol": 50}, {"date": "2017-04-15", "vol": 30}, {"date": "2017-04-22", "vol": 40},
      {"date": "2017-05-01", "vol": 30}, {"date": "2017-05-08", "vol": 45}, {"date": "2017-05-15", "vol": 25}, {"date": "2017-05-22", "vol": 35},
      {"date": "2017-06-01", "vol": 30}, {"date": "2017-06-08", "vol": 20}, {"date": "2017-06-15", "vol": 35}, {"date": "2017-06-22", "vol": 25},
      {"date": "2017-07-01", "vol": 25}, {"date": "2017-07-08", "vol": 40}, {"date": "2017-07-15", "vol": 30}, {"date": "2017-07-22", "vol": 60},
      {"date": "2017-08-01", "vol": 30}, {"date": "2017-08-08", "vol": 35}, {"date": "2017-08-15", "vol": 25}, {"date": "2017-08-22", "vol": 40},
      {"date": "2017-09-01", "vol": 30}, {"date": "2017-09-08", "vol": 45}, {"date": "2017-09-15", "vol": 35}, {"date": "2017-09-22", "vol": 50},
      {"date": "2017-10-01", "vol": 95}, {"date": "2017-10-08", "vol": 95}, {"date": "2017-10-15", "vol": 40}, {"date": "2017-10-22", "vol": 50},
      {"date": "2017-11-01", "vol": 45}, {"date": "2017-11-08", "vol": 60}, {"date": "2017-11-15", "vol": 40}, {"date": "2017-11-22", "vol": 55},
      {"date": "2017-12-01", "vol": 60}, {"date": "2017-12-08", "vol": 150}, {"date": "2017-12-15", "vol": 70}, {"date": "2017-12-22", "vol": 195},
      {"date": "2018-01-01", "vol": 140}, {"date": "2018-01-08", "vol": 150}, {"date": "2018-01-15", "vol": 80}, {"date": "2018-01-22", "vol": 120},
      {"date": "2018-02-01", "vol": 60}, {"date": "2018-02-08", "vol": 80}, {"date": "2018-02-15", "vol": 50}, {"date": "2018-02-22", "vol": 70},
      {"date": "2018-03-01", "vol": 40}, {"date": "2018-03-08", "vol": 50}, {"date": "2018-03-15", "vol": 35}, {"date": "2018-03-22", "vol": 45},
      {"date": "2018-04-01", "vol": 30}, {"date": "2018-04-08", "vol": 40}, {"date": "2018-04-15", "vol": 35}, {"date": "2018-04-22", "vol": 50},
      {"date": "2018-05-01", "vol": 30}, {"date": "2018-05-08", "vol": 45}, {"date": "2018-05-15", "vol": 40}, {"date": "2018-05-22", "vol": 60},
      {"date": "2018-06-01", "vol": 840}, {"date": "2018-06-08", "vol": 90}, {"date": "2018-06-15", "vol": 100}, {"date": "2018-06-22", "vol": 60},
      {"date": "2018-07-01", "vol": 50}, {"date": "2018-07-08", "vol": 40}, {"date": "2018-07-15", "vol": 60}, {"date": "2018-07-22", "vol": 45},
      {"date": "2018-08-01", "vol": 35}, {"date": "2018-08-08", "vol": 50}, {"date": "2018-08-15", "vol": 30}, {"date": "2018-08-22", "vol": 45},
      {"date": "2018-09-01", "vol": 80}, {"date": "2018-09-08", "vol": 60}, {"date": "2018-09-15", "vol": 90}, {"date": "2018-09-22", "vol": 70},
      {"date": "2018-10-01", "vol": 60}, {"date": "2018-10-08", "vol": 90}, {"date": "2018-10-15", "vol": 70}, {"date": "2018-10-22", "vol": 100},
      {"date": "2018-11-01", "vol": 60}, {"date": "2018-11-08", "vol": 80}, {"date": "2018-11-15", "vol": 330}, {"date": "2018-11-22", "vol": 100},
      {"date": "2018-12-01", "vol": 110}, {"date": "2018-12-08", "vol": 90}, {"date": "2018-12-15", "vol": 120}, {"date": "2018-12-22", "vol": 80},
      {"date": "2019-01-01", "vol": 100}, {"date": "2019-01-08", "vol": 90}
    ]
  },
  "vconcat": [
    {
      "width": 795,
      "height": 221,
      "data": {"name": "prices"},
      "mark": {"type": "line", "strokeWidth": 2},
      "encoding": {
        "x": {"field": "date", "type": "temporal", "scale": {"domain": [{"year": 2014, "month": 1, "date": 15}, {"year": 2019, "month": 1, "date": 15}]}, "axis": null},
        "y": {
          "field": "value",
          "type": "quantitative",
          "scale": {"domain": [40, 120]},
          "axis": {
            "values": [40, 42, 44, 46, 48, 50, 52, 54, 56, 58, 60, 62, 64, 66, 68, 70, 72, 74, 76, 78, 80, 82, 84, 86, 88, 90, 92, 94, 96, 98, 100, 102, 104, 106, 108, 110, 112, 114, 116, 118],
            "labelOverlap": false,
            "labelExpr": "datum.value % 10 === 0 ? datum.label : ''",
            "tickSize": {"condition": {"test": "datum.value % 10 === 0", "value": 5}, "value": 3},
            "gridOpacity": {"condition": {"test": "datum.value % 10 === 0", "value": 1}, "value": 0}
          }
        },
        "color": {
          "field": "series",
          "type": "nominal",
          "scale": {
            "domain": ["Price", "NAV Ex Par", "Morningstar MLP Funds", "BofAML 0-3 Mnth US Trsy Index"],
            "range": ["#6b79a6", "#c8466f", "#3b8d8c", "#b8c23f"]
          },
          "legend": {
            "title": null,
            "orient": "none",
            "legendX": -5,
            "legendY": -45,
            "direction": "horizontal",
            "columns": 3,
            "gridAlign": "all",
            "columnPadding": 0,
            "rowPadding": 5,
            "symbolType": "stroke",
            "symbolStrokeWidth": 3,
            "symbolSize": 400,
            "labelFont": "DejaVu Sans Condensed",
            "labelFontSize": 15,
            "labelColor": "#111",
            "labelLimit": 400,
            "labelOffset": 4
          }
        }
      }
    },
    {
      "width": 795,
      "height": 97,
      "title": {"text": "Discount / Premium (%) with Average line", "offset": -21, "dx": -6},
      "encoding": {
        "y": {
          "field": "pct",
          "type": "quantitative",
          "scale": {"domain": [-20, 0]},
          "axis": {
            "values": [-20, -19, -18, -17, -16, -15, -14, -13, -12, -11, -10, -9, -8, -7, -6, -5, -4, -3, -2, -1, 0],
            "labelOverlap": false,
            "labelExpr": "datum.value % 5 === 0 ? datum.label : ''",
            "tickSize": {"condition": {"test": "datum.value % 5 === 0", "value": 5}, "value": 3},
            "gridOpacity": {"condition": {"test": "datum.value % 5 === 0 && datum.value < 0", "value": 1}, "value": 0},
            "gridDash": [3, 3]
          }
        }
      },
      "layer": [
        {
          "data": {"name": "discount"},
          "mark": {"type": "line", "strokeWidth": 1.6, "color": "#f6c344"},
          "encoding": {
            "x": {"field": "date", "type": "temporal", "scale": {"domain": [{"year": 2014, "month": 1, "date": 15}, {"year": 2019, "month": 1, "date": 15}]}, "axis": null}
          }
        },
        {
          "data": {"name": "average"},
          "mark": {"type": "rule", "color": "#000", "strokeWidth": 2.5, "strokeDash": [7, 4]}
        }
      ]
    },
    {
      "width": 795,
      "height": 93,
      "title": {"text": "Volume  (shares traded in 1000's)", "offset": -23, "dx": -18},
      "data": {"name": "volume"},
      "mark": {"type": "bar", "size": 3, "color": "#f5a05e"},
      "encoding": {
        "x": {
          "field": "date",
          "type": "temporal",
          "scale": {"domain": [{"year": 2014, "month": 1, "date": 15}, {"year": 2019, "month": 1, "date": 15}]},
          "axis": {
            "tickCount": {"interval": "month", "step": 1},
            "format": "%b %y",
            "labelExpr": "month(datum.value) % 6 === 0 ? datum.label : ''",
            "labelAngle": 270,
            "labelFontSize": 11.5,
            "grid": false,
            "tickSize": {"condition": {"test": "month(datum.value) % 6 === 0", "value": 5}, "value": 3},
            "tickColor": {"condition": {"test": "month(datum.value) % 6 === 0", "value": "#6a3d7a"}, "value": "#333"},
            "labelPadding": 3
          }
        },
        "y": {
          "field": "vol",
          "type": "quantitative",
          "scale": {"domain": [0, 850]},
          "axis": {
            "values": [0, 50, 100, 150, 200, 250, 300, 350, 400, 450, 500, 550, 600, 650, 700, 750, 800, 850],
            "labelOverlap": false,
            "labelExpr": "datum.value % 200 === 0 ? datum.label : ''",
            "tickSize": {"condition": {"test": "datum.value % 200 === 0", "value": 5}, "value": 3},
            "gridOpacity": {"condition": {"test": "datum.value % 200 === 0 && datum.value > 0", "value": 1}, "value": 0},
            "gridDash": [3, 3]
          }
        }
      }
    }
  ]
}
